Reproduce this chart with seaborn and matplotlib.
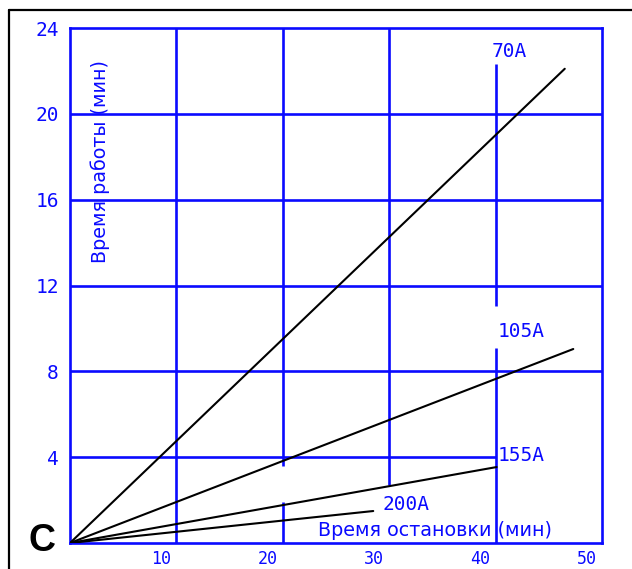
import numpy as np
import pandas as pd
import matplotlib
matplotlib.use("Agg")
import matplotlib.pyplot as plt
from matplotlib.lines import Line2D
import seaborn as sns

# Duty-cycle lines: each current runs from the origin to its end point
currents = ["70A", "105A", "155A", "200A"]
stop_end = [46.5, 47.3, 40.1, 28.5]     # Время остановки, мин
work_end = [22.1, 9.04, 3.54, 1.49]     # Время работы, мин

# Label anchors for the current names
label_x = [39.6, 40.2, 40.2, 29.4]
label_y = [22.9, 9.85, 4.1, 1.8]

x_ticks = [10, 20, 30, 40, 50]
y_ticks = [4, 8, 12, 16, 20, 24]

BLUE = "#0a0aff"

rows = []
for name, xe, ye in zip(currents, stop_end, work_end):
    rows.append({"current": name, "stop": 0.0, "work": 0.0})
    rows.append({"current": name, "stop": xe, "work": ye})
df = pd.DataFrame(rows)

sns.set_style("white")
plt.rcParams["font.family"] = ["DejaVu Sans"]

fig = plt.figure(figsize=(6.32, 5.69), dpi=100)
W, H = 632, 569
ax = fig.add_axes([70 / W, 1 - 543 / H, (602 - 70) / W, (543 - 28) / H])
ax.set_xlim(0, 50)
ax.set_ylim(0, 24)

# grid segments (some are interrupted around the labels)
v_grid = {10: [(0, 24)], 20: [(0, 1.9), (3.6, 24)], 30: [(2.7, 24)],
          40: [(0, 9.1), (11.05, 22.3)]}
h_grid = {4: [(0, 40)], 8: [(0, 50)], 12: [(0, 50)], 16: [(0, 50)], 20: [(0, 50)]}
for xv, segs in v_grid.items():
    for a, b in segs:
        ax.plot([xv, xv], [a, b], color=BLUE, lw=1.9, solid_capstyle="butt", zorder=1)
for yv, segs in h_grid.items():
    for a, b in segs:
        ax.plot([a, b], [yv, yv], color=BLUE, lw=1.9, solid_capstyle="butt", zorder=1)

sns.lineplot(data=df, x="stop", y="work", units="current", estimator=None,
             color="black", lw=1.5, ax=ax, legend=False, zorder=3)

for name, lx, ly in zip(currents, label_x, label_y):
    ax.text(lx, ly, name, color=BLUE, fontsize=14, family="DejaVu Sans Mono",
            ha="left", va="center")

for sp in ax.spines.values():
    sp.set_color(BLUE)
    sp.set_linewidth(1.9)
    sp.set_visible(True)

ax.set_xlabel("")
ax.set_ylabel("")
ax.set_xticks([])
ax.set_yticks(y_ticks)
ax.set_yticklabels([str(v) for v in y_ticks], color=BLUE, fontsize=14,
                   family="DejaVu Sans Mono")
ax.tick_params(axis="y", length=0, pad=8)

for v in x_ticks:
    ax.annotate(str(v), xy=(v, 0), xycoords="data", xytext=(-15, -7),
                textcoords="offset pixels", ha="center", va="top",
                color=BLUE, fontsize=12, family="DejaVu Sans Mono",
                annotation_clip=False)

ax.text(0.466, 0.025, "Время остановки (мин)", transform=ax.transAxes,
        color=BLUE, fontsize=13.8, ha="left", va="center")
ax.text(0.056, 0.74, "Время работы (мин)", transform=ax.transAxes,
        color=BLUE, fontsize=13.8, ha="center", va="center", rotation=90)

fig.text(29 / W, 1 - 551 / H, "C", fontsize=27, fontweight="bold",
         family="Liberation Sans", color="black", ha="left", va="baseline")

# outer frame lines
fig.add_artist(Line2D([9 / W, 1.0], [1 - 10 / H, 1 - 10 / H], color="black",
                      lw=1.6, transform=fig.transFigure))
fig.add_artist(Line2D([9 / W, 9 / W], [1 - 10 / H, 0.0], color="black",
                      lw=1.6, transform=fig.transFigure))

fig.savefig("out.png", dpi=100)
